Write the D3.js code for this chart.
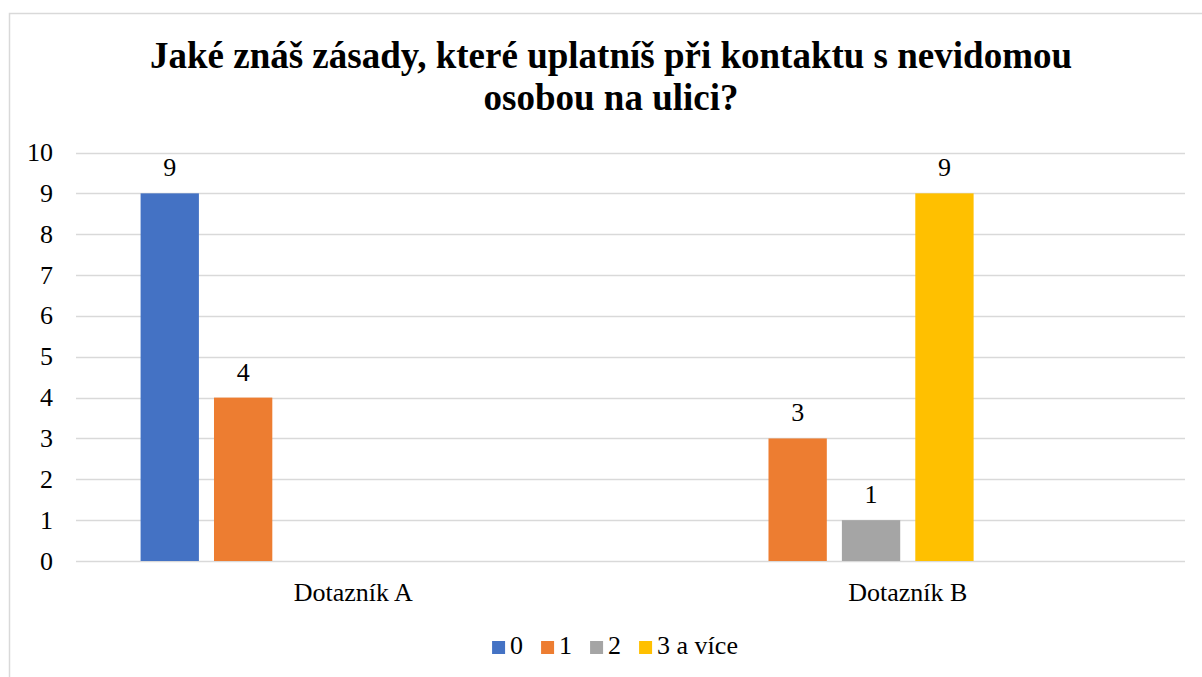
<!DOCTYPE html>
<html><head><meta charset="utf-8">
<script src="https://cdn.jsdelivr.net/npm/d3@7"></script>
</head><body>
<script>
const categories = ["Dotazník A", "Dotazník B"];
const seriesNames = ["0", "1", "2", "3 a více"];
const seriesColors = ["#4472C4", "#ED7D31", "#A5A5A5", "#FFC000"];
// values per series, per category (null = no value)
const values0 = [9, null];
const values1 = [4, 3];
const values2 = [null, 1];
const values3 = [null, 9];
const yTicks = [0,1,2,3,4,5,6,7,8,9,10];
const titleLines = ["Jaké znáš zásady, které uplatníš při kontaktu s nevidomou", "osobou na ulici?"];
// two extra empty slots in each group, as in the original chart
const slotCount = 6;

const seriesValues = [values0, values1, values2, values3];
const W = 1202, H = 677;
const font = "Liberation Serif";
d3.select("body").style("margin", "0px").style("overflow", "hidden");
const svg = d3.select("body").append("svg").attr("width", W).attr("height", H)
  .style("display", "block");
svg.append("rect").attr("width", W).attr("height", H).attr("fill", "#fff");
svg.append("rect").attr("x", 9.5).attr("y", 13.5).attr("width", 1210).attr("height", 700)
  .attr("fill", "none").attr("stroke", "#d9d9d9").attr("stroke-width", 1.5);

const plot = {left: 76, right: 1185, top: 152.5, bottom: 561};
const y = d3.scaleLinear().domain([0, 10]).range([plot.bottom, plot.top]);
const x0 = d3.scaleBand().domain(categories).range([plot.left, plot.right]).padding(0);
const x1 = d3.scaleBand().domain(d3.range(slotCount)).range([0, x0.bandwidth()])
  .paddingInner(15/73).paddingOuter(0.88);

// gridlines
svg.append("g").selectAll("line").data(yTicks).join("line")
  .attr("x1", plot.left).attr("x2", plot.right)
  .attr("y1", d => Math.round(y(d)) + 0.5).attr("y2", d => Math.round(y(d)) + 0.5)
  .attr("stroke", "#d9d9d9").attr("stroke-width", 1.5);

function txt(sel, size) {
  return sel.style("font-family", font).attr("font-size", size).attr("fill", "#000");
}

// y tick labels
txt(svg.append("g").selectAll("text").data(yTicks).join("text")
  .attr("x", 53).attr("y", d => y(d) + 8.5)
  .attr("text-anchor", "end"), 26).text(d => d);

// bars
const barData = [];
seriesValues.forEach((vals, si) => vals.forEach((v, ci) => {
  if (v !== null) barData.push({si, ci, v});
}));
svg.append("g").selectAll("rect").data(barData).join("rect")
  .attr("x", d => x0(categories[d.ci]) + x1(d.si))
  .attr("width", x1.bandwidth())
  .attr("y", d => y(d.v)).attr("height", d => y(0) - y(d.v))
  .attr("fill", d => seriesColors[d.si]);

// data labels
txt(svg.append("g").selectAll("text").data(barData).join("text")
  .attr("x", d => x0(categories[d.ci]) + x1(d.si) + x1.bandwidth()/2)
  .attr("y", d => y(d.v) - 17)
  .attr("text-anchor", "middle"), 26).text(d => d.v);

// category labels
txt(svg.append("g").selectAll("text").data(categories).join("text")
  .attr("x", d => x0(d) + x0.bandwidth()/2).attr("y", 601)
  .attr("text-anchor", "middle"), 26).text(d => d);

// title
txt(svg.append("g").selectAll("text").data(titleLines).join("text")
  .attr("x", 611).attr("y", (d, i) => 68 + i * 42)
  .attr("text-anchor", "middle"), 37)
  .attr("font-weight", "bold").text(d => d);

// legend
const legend = svg.append("g");
let lx = 0;
const items = seriesNames.map((n, i) => ({n, i}));
const lg = legend.selectAll("g").data(items).join("g");
lg.append("rect").attr("width", 13).attr("height", 13).attr("y", 641)
  .attr("fill", d => seriesColors[d.i]);
txt(lg.append("text").attr("x", 18).attr("y", 654), 26).text(d => d.n);
lg.each(function() {
  const w = this.getBBox().width;
  d3.select(this).attr("transform", `translate(${lx},0)`);
  lx += w + 18;
});
const totalW = lx - 18;
legend.attr("transform", `translate(${615 - totalW/2},0)`);
</script>
</body></html>
